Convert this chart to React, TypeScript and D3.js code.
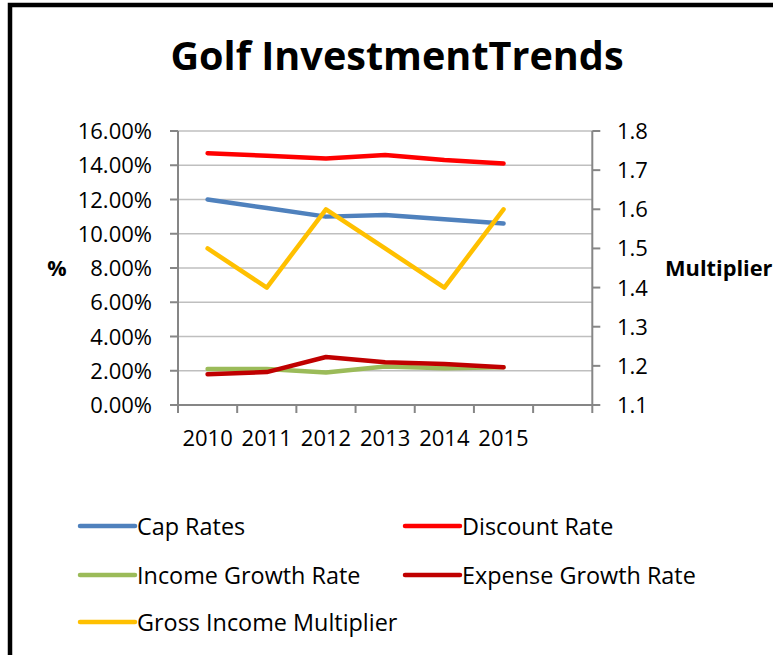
import React from "react";
import * as d3 from "d3";

const categories = ["2010", "2011", "2012", "2013", "2014", "2015"];
const slotCount = 7;
const capRates = [0.12, 0.115, 0.11, 0.111, 0.1085, 0.106];
const discountRate = [0.147, 0.1455, 0.144, 0.146, 0.143, 0.141];
const incomeGrowth = [0.021, 0.021, 0.019, 0.0225, 0.0215, 0.022];
const expenseGrowth = [0.018, 0.0192, 0.028, 0.025, 0.024, 0.022];
const grossIncomeMultiplier = [1.5, 1.4, 1.6, 1.5, 1.4, 1.6];
const leftTicks = [0, 0.02, 0.04, 0.06, 0.08, 0.1, 0.12, 0.14, 0.16];
const rightTicks = [1.1, 1.2, 1.3, 1.4, 1.5, 1.6, 1.7, 1.8];

const seriesNames = ["Cap Rates", "Discount Rate", "Income Growth Rate", "Expense Growth Rate", "Gross Income Multiplier"];
const seriesColors = ["#4F81BD", "#FF0000", "#9BBB59", "#C00000", "#FFC000"];

const FONT = "'Open Sans', 'Liberation Sans', sans-serif";

export default function App() {
  const W = 773, H = 655;
  const left = 178, right = 592.3, top = 131, bottom = 405;
  const x = d3.scaleBand<number>().domain(d3.range(slotCount)).range([left, right]);
  const yL = d3.scaleLinear().domain([0, 0.16]).range([bottom, top]);
  const yR = d3.scaleLinear().domain([1.1, 1.8]).range([bottom, top]);
  const cx = (i: number) => (x(i) as number) + x.bandwidth() / 2;

  const lineL = d3.line<number>().x((_, i) => cx(i)).y((d) => yL(d));
  const lineR = d3.line<number>().x((_, i) => cx(i)).y((d) => yR(d));

  const series = [
    { data: capRates, gen: lineL },
    { data: discountRate, gen: lineL },
    { data: incomeGrowth, gen: lineL },
    { data: expenseGrowth, gen: lineL },
    { data: grossIncomeMultiplier, gen: lineR },
  ];

  const fmtL = d3.format(".2%");
  const fmtR = d3.format(".1f");
  const gridColor = "#BFBFBF";
  const axisColor = "#868686";

  const legendPos = [
    { x: 80, y: 526 },
    { x: 405, y: 526 },
    { x: 80, y: 575 },
    { x: 405, y: 575 },
    { x: 80, y: 622 },
  ];

  return (
    <svg width={W} height={H} style={{ position: "absolute", left: 0, top: 0, background: "#fff" }} fontFamily={FONT}>
      <rect x={0} y={0} width={W} height={H} fill="#fff" />
      <rect x={10} y={5} width={W + 20} height={H + 20} fill="none" stroke="#000" strokeWidth={4.5} />
      <text x={397} y={70} textAnchor="middle" fontSize={39.6} fontWeight="bold" fill="#000">
        Golf InvestmentTrends
      </text>

      {/* gridlines */}
      {leftTicks.map((t) => (
        <line key={"g" + t} x1={left} x2={right} y1={yL(t)} y2={yL(t)} stroke={gridColor} strokeWidth={1.5} />
      ))}

      {/* left axis */}
      <line x1={left} x2={left} y1={top} y2={bottom} stroke={axisColor} strokeWidth={2} />
      {leftTicks.map((t) => (
        <g key={"l" + t}>
          <line x1={left - 8} x2={left} y1={yL(t)} y2={yL(t)} stroke={axisColor} strokeWidth={2} />
          <text x={152} y={yL(t) + 8} textAnchor="end" fontSize={22} fill="#000">
            {fmtL(t)}
          </text>
        </g>
      ))}

      {/* right axis */}
      <line x1={right} x2={right} y1={top} y2={bottom} stroke={axisColor} strokeWidth={2} />
      {rightTicks.map((t) => (
        <g key={"r" + t}>
          <line x1={right} x2={right + 8} y1={yR(t)} y2={yR(t)} stroke={axisColor} strokeWidth={2} />
          <text x={617} y={yR(t) + 8} textAnchor="start" fontSize={22} fill="#000">
            {fmtR(t)}
          </text>
        </g>
      ))}

      {/* bottom axis */}
      <line x1={left} x2={right} y1={bottom} y2={bottom} stroke={axisColor} strokeWidth={2} />
      {d3.range(slotCount + 1).map((i) => {
        const xx = i < slotCount ? (x(i) as number) : right;
        return <line key={"xt" + i} x1={xx} x2={xx} y1={bottom} y2={bottom + 8} stroke={axisColor} strokeWidth={2} />;
      })}
      {categories.map((c, i) => (
        <text key={c} x={cx(i)} y={446} textAnchor="middle" fontSize={22} fill="#000">
          {c}
        </text>
      ))}

      {/* axis titles */}
      <text x={57} y={276} textAnchor="middle" fontSize={21.5} fontWeight="bold" fill="#000">%</text>
      <text x={665} y={276} textAnchor="start" fontSize={21.8} fontWeight="bold" fill="#000">Multiplier</text>

      {/* series */}
      {series.map((s, k) => (
        <path
          key={seriesNames[k]}
          d={s.gen(s.data) as string}
          fill="none"
          stroke={seriesColors[k]}
          strokeWidth={4.5}
          strokeLinejoin="round"
          strokeLinecap="round"
        />
      ))}

      {/* legend */}
      {seriesNames.map((n, k) => (
        <g key={"lg" + n}>
          <line x1={legendPos[k].x} x2={legendPos[k].x + 55} y1={legendPos[k].y} y2={legendPos[k].y} stroke={seriesColors[k]} strokeWidth={4.5} strokeLinecap="round" />
          <text x={legendPos[k].x + 57} y={legendPos[k].y + 8.5} fontSize={23.4} fill="#000">
            {n}
          </text>
        </g>
      ))}
    </svg>
  );
}
